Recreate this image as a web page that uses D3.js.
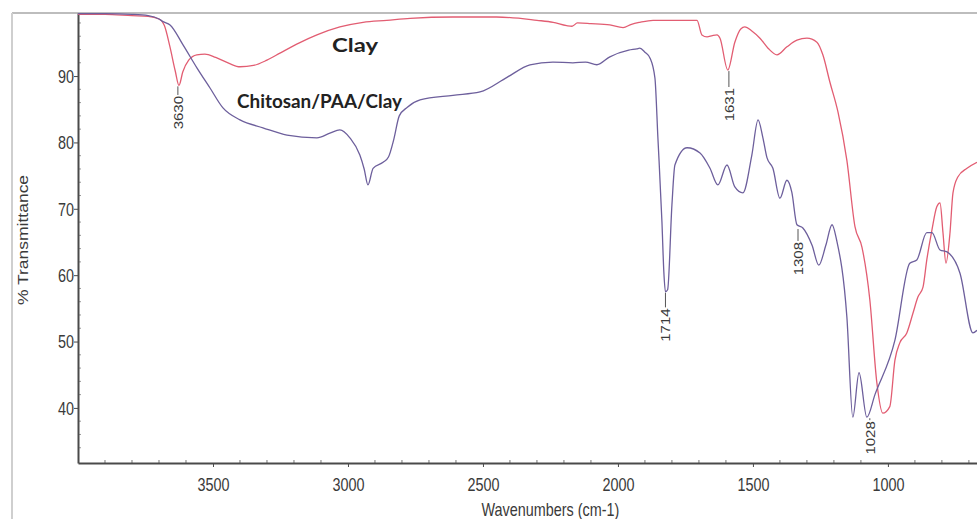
<!DOCTYPE html>
<html>
<head>
<meta charset="utf-8">
<script src="https://cdn.jsdelivr.net/npm/d3@7/dist/d3.min.js"></script>
<style>
  html, body { margin: 0; padding: 0; background: #fff; }
  svg { display: block; }
</style>
</head>
<body>
<svg id="chart" width="977" height="519"></svg>
<script>
// ---------------- DATA ----------------
// Clay spectrum (wavenumber cm-1, %T)
const clayWn = [4000,3900,3800,3740,3700,3680,3660,3640,3626,3612,3590,3560,3530,3490,3440,3400,3350,3300,3250,3180,3115,3030,2944,2856,2770,2611,2450,2300,2240,2190,2170,2150,2100,2030,1981,1950,1919,1870,1780,1707,1689,1670,1650,1633,1622,1593,1567,1545,1530,1504,1474,1444,1411,1374,1337,1300,1263,1241,1215,1185,1152,1122,1096,1067,1041,1019,993,974,956,930,907,889,870,856,837,819,807,796,785,770,759,741,707,670];
const clayT  = [99.3,99.3,99.1,99.0,98.6,97.6,94.5,90.8,88.6,90.6,92.4,93.2,93.3,92.8,91.9,91.4,91.6,92.4,93.5,95.0,96.2,97.4,98.1,98.4,98.7,98.9,98.9,98.4,98.1,97.6,97.5,98.0,97.9,97.7,97.3,97.8,98.1,98.4,98.4,98.4,96.2,95.9,96.1,96.2,95.7,90.9,95.1,97.1,97.4,96.8,95.7,94.2,93.2,94.4,95.4,95.7,95.1,93.2,89.1,84.6,77.3,67.3,64.2,56.3,43.8,39.2,40.2,47.2,49.8,51.3,54.3,56.7,58.2,62.3,66.8,70.3,70.9,66.4,61.8,66.4,72.4,74.8,76.1,77.0];

// Chitosan/PAA/Clay spectrum
const compWn = [4000,3900,3800,3740,3700,3685,3659,3611,3559,3511,3463,3400,3315,3226,3115,3067,3030,2993,2956,2940,2926,2907,2870,2850,2830,2810,2780,2733,2611,2511,2411,2326,2241,2167,2120,2078,2030,1960,1930,1919,1900,1881,1863,1852,1837,1830,1824,1816,1800,1789,1744,1696,1659,1630,1596,1567,1537,1504,1481,1463,1448,1426,1400,1374,1356,1337,1315,1281,1256,1230,1207,1190,1152,1130,1107,1078,1048,974,919,893,856,837,807,781,733,685,670];
const compT  = [99.4,99.4,99.3,99.1,98.6,98.2,97.7,94.7,91.2,88.2,85.2,83.4,82.2,81.1,80.7,81.4,81.9,80.7,78.1,76.0,73.6,76.1,77.0,77.8,80.5,84.0,85.3,86.4,87.1,87.6,89.8,91.7,92.1,92.0,92.1,91.7,92.9,93.9,94.1,94.2,93.6,92.7,89.7,80.7,68.0,60.5,57.5,57.8,70.6,76.6,79.2,78.4,76.1,73.6,76.6,73.3,72.4,78.1,83.4,80.7,77.7,76.1,71.6,74.3,72.5,67.6,67.1,64.5,61.5,64.5,67.6,65.3,53.7,38.6,45.3,38.6,42.0,50.2,61.8,62.3,66.4,66.4,63.8,63.5,60.3,51.3,51.7];

// Series names and where their names are written (data coordinates)
const seriesNames   = ["Clay", "Chitosan/PAA/Clay"];
const seriesLabelWn = [3059, 3411];
const seriesLabelT  = [93.6, 85.2];

// Peak annotations: text, peak position, and where the label text starts (data coords)
const peakText   = ["3630", "1631", "1714", "1308", "1028"];
const peakWn     = [3630, 1589, 1824, 1333, 1067];
const peakT      = [88.6, 90.9, 57.5, 67.1, 38.6];
const peakLabelT = [87.0, 88.2, 55.0, 65.0, 38.0];

// Axis ticks
const xTicks = [3500, 3000, 2500, 2000, 1500, 1000];
const yTicks = [40, 50, 60, 70, 80, 90];
const xTitle = "Wavenumbers (cm-1)";
const yTitle = "% Transmittance";

// ---------------- DRAW ----------------
(function () {
const svg = d3.select("#chart");
const W = 977, H = 519;
const pL = 78, pR = 977, pT = 13, pB = 463;
const SQ = 0.8; // horizontal squeeze of the original rendering

const x = d3.scaleLinear().domain([4000, 670]).range([pL, pR]);
const y = d3.scaleLinear().domain([31.7, 99.5]).range([pB, pT]);

svg.append("rect").attr("width", W).attr("height", H).attr("fill", "#fff");

// outer frame (light gray)
svg.append("line").attr("x1", 12).attr("x2", W).attr("y1", pT).attr("y2", pT)
  .attr("stroke", "#bdbdbd").attr("stroke-width", 2);
svg.append("line").attr("x1", 12).attr("x2", 12).attr("y1", pT).attr("y2", H)
  .attr("stroke", "#cfcfcf").attr("stroke-width", 2);

const font = "'Liberation Sans', Arial, sans-serif";

// minor ticks
const xMinor = d3.range(3900, 670, -100).filter(v => v % 500 !== 0);
svg.append("g").selectAll("line").data(xMinor).join("line")
  .attr("x1", d => x(d)).attr("x2", d => x(d))
  .attr("y1", pB - 3).attr("y2", pB)
  .attr("stroke", "#777").attr("stroke-width", 1);
const yMinor = d3.range(34, 99, 2).filter(v => v % 10 !== 0);
svg.append("g").selectAll("line").data(yMinor).join("line")
  .attr("x1", pL).attr("x2", pL + 3)
  .attr("y1", d => y(d)).attr("y2", d => y(d))
  .attr("stroke", "#999").attr("stroke-width", 1);

// X axis
const gx = svg.append("g").attr("transform", `translate(0,${pB})`)
  .call(d3.axisBottom(x).tickValues(xTicks).tickSize(4).tickSizeOuter(0).tickFormat(d3.format("d")));
gx.select(".domain").attr("stroke", "#4a4a4a").attr("stroke-width", 2);
gx.selectAll(".tick line").attr("stroke", "#4a4a4a");
gx.selectAll(".tick text")
  .attr("font-family", font).attr("font-size", 18).attr("fill", "#3a3a3a")
  .attr("y", 0).attr("dy", 0)
  .attr("transform", `translate(0,28) scale(${SQ},1)`);

// Y axis
const gy = svg.append("g").attr("transform", `translate(${pL},0)`)
  .call(d3.axisLeft(y).tickValues(yTicks).tickSize(4).tickSizeOuter(0).tickFormat(d3.format("d")));
gy.select(".domain").attr("stroke", "#4a4a4a").attr("stroke-width", 2);
gy.selectAll(".tick line").attr("stroke", "#4a4a4a");
gy.selectAll(".tick text")
  .attr("font-family", font).attr("font-size", 18).attr("fill", "#3a3a3a")
  .attr("x", 0).attr("dy", "0.35em")
  .attr("transform", `translate(-4,0) scale(${SQ},1)`);

// Axis titles
svg.append("text")
  .attr("transform", `translate(${x(2250)},516) scale(${SQ},1)`)
  .attr("text-anchor", "middle")
  .attr("font-family", font).attr("font-size", 18).attr("fill", "#3a3a3a")
  .text(xTitle);
svg.append("text")
  .attr("transform", `translate(28,${(pT + pB) / 2 + 2}) scale(${SQ},1) rotate(-90)`)
  .attr("text-anchor", "middle")
  .attr("font-family", font).attr("font-size", 17.5).attr("fill", "#3a3a3a")
  .text(yTitle);

// Spectra
const line = d3.line().x(d => x(d[0])).y(d => y(d[1])).curve(d3.curveMonotoneX);
const clayData = clayWn.map((w, i) => [w, clayT[i]]);
const compData = compWn.map((w, i) => [w, compT[i]]);
const colors = ["#e25d72", "#6d5f9c"];

svg.append("path").datum(clayData).attr("d", line)
  .attr("fill", "none").attr("stroke", colors[0]).attr("stroke-width", 1.3);
svg.append("path").datum(compData).attr("d", line)
  .attr("fill", "none").attr("stroke", colors[1]).attr("stroke-width", 1.3);

// Series names
seriesNames.forEach((name, i) => {
  svg.append("text")
    .attr("x", x(seriesLabelWn[i])).attr("y", y(seriesLabelT[i]))
    .attr("font-family", "Lato, 'Open Sans', sans-serif").attr("font-weight", "bold")
    .attr("font-size", 19).attr("fill", "#222")
    .attr("textLength", i === 0 ? 46 : 165).attr("lengthAdjust", "spacingAndGlyphs")
    .text(name);
});

// Peak annotations
peakText.forEach((t, i) => {
  const px = x(peakWn[i]);
  const py = y(peakT[i]);
  const ly = y(peakLabelT[i]);
  svg.append("line")
    .attr("x1", px).attr("x2", px).attr("y1", py + 1).attr("y2", ly - 1)
    .attr("stroke", "#555").attr("stroke-width", 1);
  svg.append("text")
    .attr("transform", `translate(${px + 5},${ly}) scale(${SQ},1) rotate(-90)`)
    .attr("text-anchor", "end")
    .attr("font-family", font).attr("font-size", 15).attr("fill", "#3a3a3a")
    .text(t);
});
})();
</script>
</body>
</html>
